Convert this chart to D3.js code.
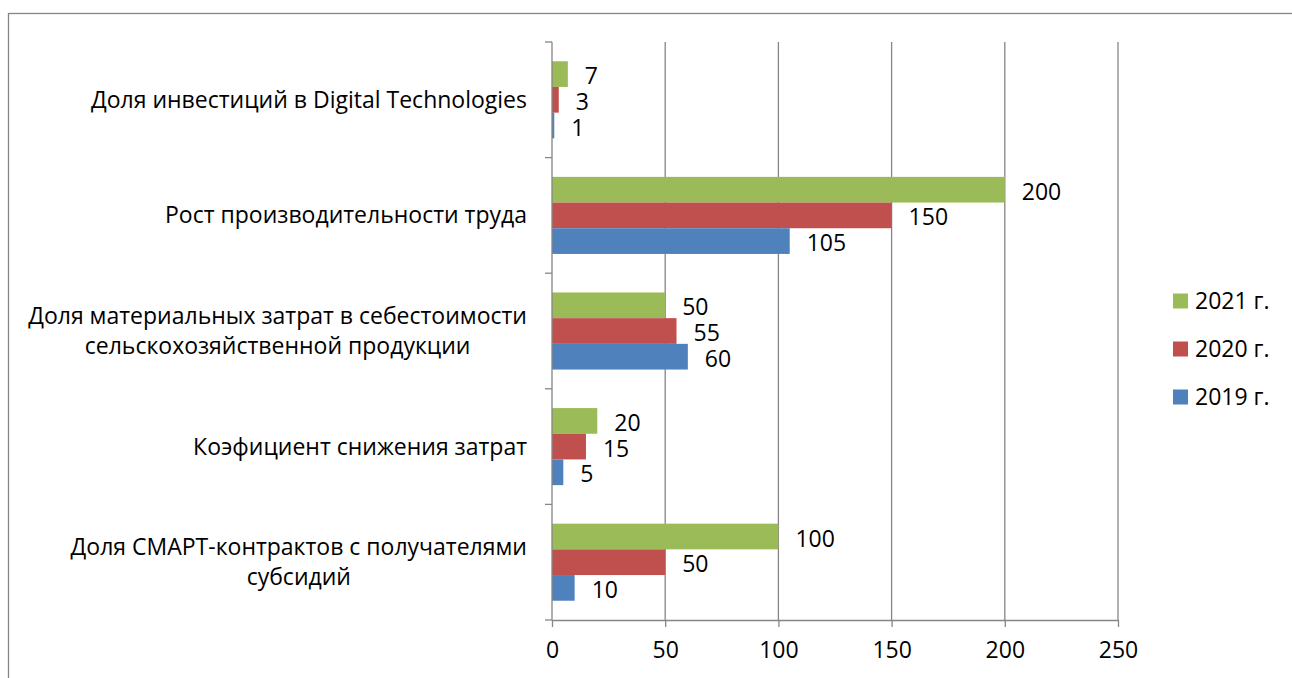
<!DOCTYPE html>
<html>
<head>
<meta charset="utf-8">
<script src="https://cdn.jsdelivr.net/npm/d3@7"></script>
<style>
  html, body { margin: 0; padding: 0; background: #fff; }
  svg { display: block; font-family: "Open Sans", "Noto Sans", sans-serif; }
</style>
</head>
<body>
<svg id="chart" width="1292" height="678"></svg>
<script>
// Indicators, listed top to bottom; "\n" splits a label into lines
const categories = [
  "Доля инвестиций в Digital Technologies",
  "Рост производительности труда",
  "Доля материальных затрат в себестоимости\nсельскохозяйственной продукции",
  "Коэфициент снижения затрат",
  "Доля СМАРТ-контрактов с получателями\nсубсидий"
];
const values2021 = [7, 200, 50, 20, 100];
const values2020 = [3, 150, 55, 15, 50];
const values2019 = [1, 105, 60, 5, 10];
const seriesNames = ["2021 г.", "2020 г.", "2019 г."];
const xTicks = [0, 50, 100, 150, 200, 250];

const seriesColors = ["#9BBB59", "#C0504D", "#4F81BD"];
const series = [values2021, values2020, values2019].map((vals, i) => ({
  name: seriesNames[i], color: seriesColors[i], values: vals
}));

const svg = d3.select("#chart");
const fontSize = 23;
const fontFamily = "Open Sans, Noto Sans, sans-serif";

// chart frame
svg.append("rect")
  .attr("x", 8.5).attr("y", 13.5)
  .attr("width", 1400).attr("height", 800)
  .attr("fill", "none").attr("stroke", "#868686").attr("stroke-width", 1.3);

const plot = { left: 552, right: 1118, top: 42, bottom: 620 };

const x = d3.scaleLinear().domain([0, 250]).range([plot.left, plot.right]);
const y = d3.scaleBand().domain(categories).range([plot.top, plot.bottom]).paddingInner(0).paddingOuter(0);
const inner = d3.scaleBand().domain(seriesNames)
  .range([0, y.bandwidth()]).paddingOuter(0.75).paddingInner(0);

// vertical gridlines
svg.append("g").selectAll("line").data(xTicks.slice(1)).join("line")
  .attr("x1", d => x(d)).attr("x2", d => x(d))
  .attr("y1", plot.top).attr("y2", plot.bottom)
  .attr("stroke", "#868686").attr("stroke-width", 1.3);

// bars
const catGroups = svg.append("g").selectAll("g").data(categories).join("g")
  .attr("transform", d => `translate(0,${y(d)})`);

series.forEach(s => {
  catGroups.append("rect")
    .attr("x", x(0))
    .attr("y", inner(s.name))
    .attr("width", (d, i) => x(s.values[i]) - x(0))
    .attr("height", inner.bandwidth())
    .attr("fill", s.color);
  catGroups.append("text")
    .attr("x", (d, i) => x(s.values[i]) + 17)
    .attr("y", inner(s.name) + inner.bandwidth() / 2 + 2)
    .attr("dy", "0.35em")
    .attr("font-size", fontSize)
    .attr("fill", "#000")
    .text((d, i) => s.values[i]);
});

// x axis
const xAxis = svg.append("g")
  .attr("transform", `translate(0,${plot.bottom})`)
  .call(d3.axisBottom(x).tickValues(xTicks).tickSize(7).tickPadding(15).tickSizeOuter(0));
xAxis.select(".domain").attr("stroke", "#868686").attr("stroke-width", 1.3);
xAxis.selectAll(".tick line").attr("stroke", "#868686").attr("stroke-width", 1.3);
xAxis.selectAll(".tick text").attr("font-size", fontSize).attr("fill", "#000")
  .attr("font-family", fontFamily);

// y axis (line with tick marks between categories)
const yTickPos = categories.map(c => y(c)).concat([plot.bottom]);
svg.append("line")
  .attr("x1", plot.left).attr("x2", plot.left)
  .attr("y1", plot.top).attr("y2", plot.bottom)
  .attr("stroke", "#868686").attr("stroke-width", 1.3);
svg.append("g").selectAll("line").data(yTickPos).join("line")
  .attr("x1", plot.left - 7).attr("x2", plot.left)
  .attr("y1", d => d).attr("y2", d => d)
  .attr("stroke", "#868686").attr("stroke-width", 1.3);

// category labels: block right-aligned, lines centered within block
const lineH = 30;
categories.forEach(c => {
  const lines = c.split("\n");
  const g = svg.append("g");
  const cy = y(c) + y.bandwidth() / 2;
  const texts = lines.map((ln, i) => g.append("text")
    .attr("y", cy + (i - (lines.length - 1) / 2) * lineH)
    .attr("dy", "0.35em")
    .attr("font-size", fontSize)
    .attr("text-anchor", "middle")
    .text(ln));
  const maxW = d3.max(texts, t => t.node().getComputedTextLength());
  texts.forEach(t => t.attr("x", 527 - maxW / 2));
});

// legend
const legend = svg.append("g").selectAll("g").data(series).join("g")
  .attr("transform", (d, i) => `translate(1173,${301 + i * 48})`);
legend.append("rect").attr("x", 0).attr("y", -7.5).attr("width", 15).attr("height", 15)
  .attr("fill", d => d.color);
legend.append("text").attr("x", 22).attr("y", 0).attr("dy", "0.35em")
  .attr("font-size", fontSize).text(d => d.name);
</script>
</body>
</html>
